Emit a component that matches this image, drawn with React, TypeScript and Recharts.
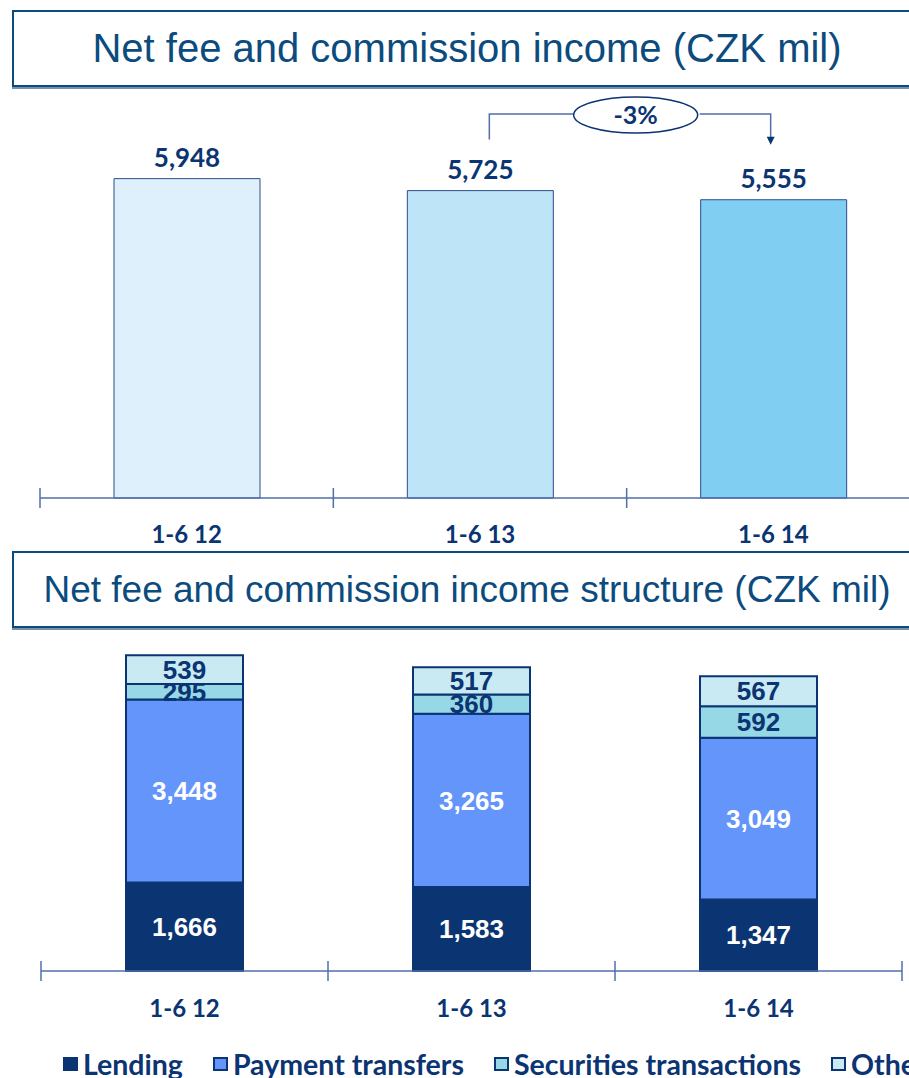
import React from 'react';
import { BarChart, Bar, XAxis, YAxis, Cell, LabelList } from 'recharts';

const categories = ['1-6 12', '1-6 13', '1-6 14'];
const totalIncome = [5948, 5725, 5555];
const lending = [1666, 1583, 1347];
const paymentTransfers = [3448, 3265, 3049];
const securities = [295, 360, 592];
const other = [539, 517, 567];
const changeLabel = '-3%';

const seriesNames = ['Lending', 'Payment transfers', 'Securities transactions', 'Other'];
const seriesKeys = ['lending', 'payment', 'securities', 'other'];
const seriesFills = ['#0B3473', '#6495FA', '#97D8E6', '#C9EAF2'];
const seriesLabelColors = ['#FFFFFF', '#FFFFFF', '#0B3473', '#0B3473'];
const totalFills = ['#DEF0FB', '#BEE4F8', '#80CFF3'];

const NAVY = '#0B3473';
const TITLE_BLUE = '#0C4B7E';
const AXIS = '#4F6FA8';

const topData = categories.map((name, i) => ({ name, total: totalIncome[i] }));
const structureData = categories.map((name, i) => ({
  name,
  lending: lending[i],
  payment: paymentTransfers[i],
  securities: securities[i],
  other: other[i],
}));

const fmt = (v: number) => v.toLocaleString('en-US');

const TOP_W = 930;
const TOP_MARGIN = { top: 149, right: 10, bottom: 0, left: 40 };
const BOT_W = 930;
const BOT_MARGIN = { top: 66, right: 28, bottom: 0, left: 41 };

const makeTick = (step: number, count: number, labelDy: number) => (props: any) => {
  const { x, y, payload, index } = props;
  return (
    <g>
      <line x1={x - step / 2} x2={x - step / 2} y1={y - 10} y2={y + 10} stroke={AXIS} strokeWidth={1.5} />
      {index === count - 1 && (
        <line x1={x + step / 2} x2={x + step / 2} y1={y - 10} y2={y + 10} stroke={AXIS} strokeWidth={1.5} />
      )}
      <text x={x} y={y + labelDy} textAnchor="middle" fill={NAVY} fontSize={24} fontWeight={700} fontFamily="Lato">
        {payload.value}
      </text>
    </g>
  );
};

const ANNOT_Y = 114;

const TopValueLabel = (props: any) => {
  const { x, y, width, value, index } = props;
  const cx = x + width / 2;
  return (
    <g>
      <text x={cx} y={y - 12} textAnchor="middle" fill={NAVY} fontSize={26} fontWeight={700} fontFamily="Lato">
        {fmt(value)}
      </text>
      {index === 1 && (
        <polyline
          points={`${cx + 9},${y - 51} ${cx + 9},${ANNOT_Y} ${cx + 95},${ANNOT_Y}`}
          fill="none"
          stroke={AXIS}
          strokeWidth={1.5}
        />
      )}
      {index === 2 && (
        <g>
          <polyline
            points={`${cx - 74},${ANNOT_Y} ${cx - 3},${ANNOT_Y} ${cx - 3},${y - 62}`}
            fill="none"
            stroke={AXIS}
            strokeWidth={1.5}
          />
          <path d={`M${cx - 7},${y - 63} L${cx + 1},${y - 63} L${cx - 3},${y - 55} Z`} fill={NAVY} />
          <ellipse cx={cx - 138} cy={ANNOT_Y + 1} rx={62} ry={18} fill="#fff" stroke={NAVY} strokeWidth={1.5} />
          <text x={cx - 138} y={ANNOT_Y + 10} textAnchor="middle" fill={NAVY} fontSize={25} fontWeight={700} fontFamily="Lato">
            {changeLabel}
          </text>
        </g>
      )}
    </g>
  );
};

const titleStyle = (top: number, fontSize: number): React.CSSProperties => ({
  position: 'absolute',
  left: 12,
  top,
  width: 906,
  height: 73,
  border: `2px solid ${TITLE_BLUE}`,
  boxShadow: '0 2px 0 #7a8fa8',
  display: 'flex',
  alignItems: 'center',
  justifyContent: 'center',
  color: TITLE_BLUE,
  fontFamily: '"Liberation Sans", Arial, sans-serif',
  fontSize,
  whiteSpace: 'nowrap',
  boxSizing: 'content-box',
});

export default function App() {
  const topStep = (TOP_W - TOP_MARGIN.left - TOP_MARGIN.right) / categories.length;
  const botStep = (BOT_W - BOT_MARGIN.left - BOT_MARGIN.right) / categories.length;
  return (
    <div style={{ position: 'absolute', left: 0, top: 0, width: 909, height: 1078, overflow: 'hidden', background: '#fff' }}>
      <div style={titleStyle(10, 40)}>Net fee and commission income (CZK mil)</div>
      <div style={{ position: 'absolute', left: 0, top: 0 }}>
        <BarChart width={TOP_W} height={560} data={topData} margin={TOP_MARGIN}>
          <YAxis hide domain={[0, 6500]} />
          <XAxis
            dataKey="name"
            height={62}
            axisLine={{ stroke: AXIS, strokeWidth: 1.5 }}
            tickLine={false}
            tickSize={0}
            tickMargin={0}
            interval={0}
            tick={makeTick(topStep, categories.length, 45)}
          />
          <Bar dataKey="total" barSize={146} stroke="#2B4C8C" strokeWidth={1} isAnimationActive={false}>
            {topData.map((_, i) => (
              <Cell key={i} fill={totalFills[i]} />
            ))}
            <LabelList dataKey="total" content={TopValueLabel} />
          </Bar>
        </BarChart>
      </div>

      <div style={titleStyle(551, 37)}>Net fee and commission income structure (CZK mil)</div>
      <div style={{ position: 'absolute', left: 0, top: 560 }}>
        <BarChart width={BOT_W} height={518} data={structureData} margin={BOT_MARGIN}>
          <YAxis hide domain={[0, 6500]} />
          <XAxis
            dataKey="name"
            height={107}
            axisLine={{ stroke: AXIS, strokeWidth: 1.5 }}
            tickLine={false}
            tickSize={0}
            tickMargin={0}
            interval={0}
            tick={makeTick(botStep, categories.length, 46)}
          />
          {seriesKeys.map((key, i) => (
            <Bar
              key={key}
              dataKey={key}
              stackId="a"
              barSize={117}
              fill={seriesFills[i]}
              stroke={NAVY}
              strokeWidth={2}
              isAnimationActive={false}
            >
              <LabelList
                dataKey={key}
                position="center"
                formatter={(v: any) => fmt(v)}
                fill={seriesLabelColors[i]}
                fontSize={26}
                fontWeight={700}
                fontFamily='"Liberation Sans", Arial, sans-serif'
              />
            </Bar>
          ))}
        </BarChart>
      </div>

      <div
        style={{
          position: 'absolute',
          left: 63,
          top: 1050,
          height: 28,
          lineHeight: '28px',
          display: 'flex',
          alignItems: 'center',
          whiteSpace: 'nowrap',
          fontFamily: 'Lato',
          fontWeight: 700,
          fontSize: 28.5,
          color: NAVY,
        }}
      >
        {seriesNames.map((name, i) => (
          <div key={name} style={{ display: 'flex', alignItems: 'center', marginRight: 30 }}>
            <span
              style={{
                display: 'inline-block',
                width: 11,
                height: 10,
                background: seriesFills[i],
                border: `2px solid ${NAVY}`,
                marginRight: 5,
              }}
            />
            {name}
          </div>
        ))}
      </div>
    </div>
  );
}
